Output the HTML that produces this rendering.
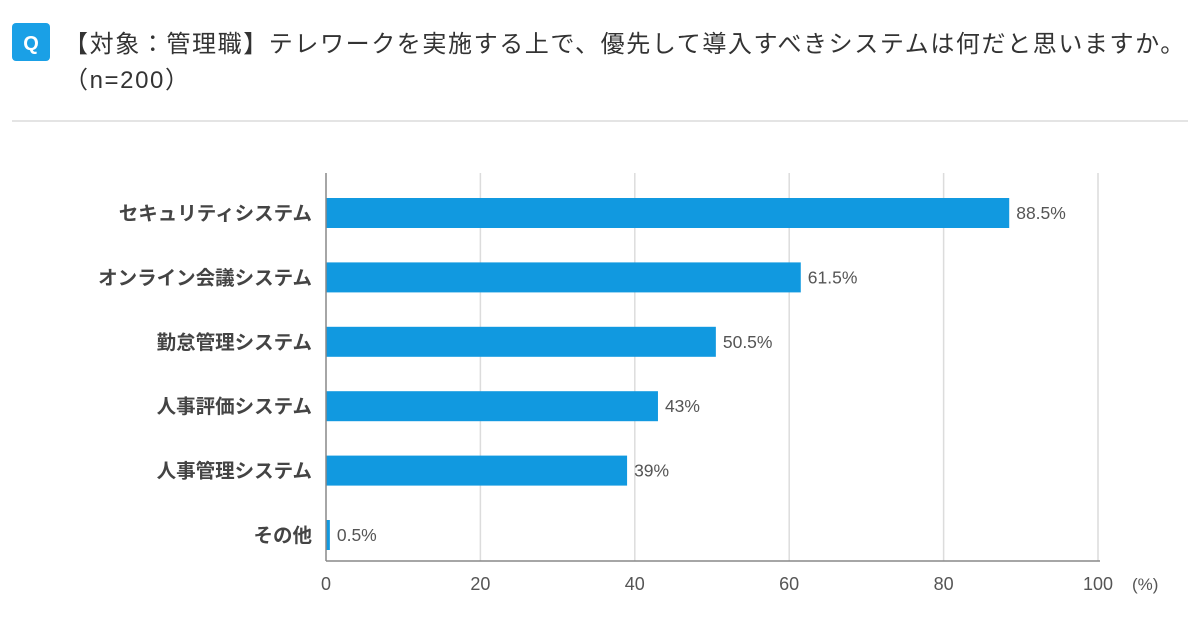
<!DOCTYPE html>
<html><head><meta charset="utf-8"><style>
body{margin:0;width:1200px;height:630px;background:#fff;overflow:hidden;font-family:"Liberation Sans","Noto Sans CJK JP",sans-serif;}
</style></head><body>
<svg width="1200" height="630">
<rect x="12" y="23" width="38" height="38" rx="4" fill="#1aa0e6"/>
<text x="31" y="50" text-anchor="middle" font-size="20" font-weight="bold" fill="#fff" font-family="Liberation Sans,sans-serif">Q</text>
<text x="64" y="52" font-size="24" letter-spacing="1.6" fill="#333">【対象：管理職】テレワークを実施する上で、優先して導入すべきシステムは何だと思いますか。</text>
<text x="64" y="88" font-size="24" letter-spacing="1.6" fill="#333">（n=200）</text>
<line x1="12" y1="121" x2="1188" y2="121" stroke="#e4e4e4" stroke-width="2"/>
<g id="grid"></g><g id="bars"></g>
<line x1="326" y1="173" x2="326" y2="561" stroke="#888" stroke-width="1.5"/>
<line x1="326" y1="561" x2="1100" y2="561" stroke="#888" stroke-width="1.5"/>
<text x="1132" y="590" font-size="17" fill="#555">(%)</text>
</svg>
<script>
const categories=["セキュリティシステム","オンライン会議システム","勤怠管理システム","人事評価システム","人事管理システム","その他"];
const values=[88.5,61.5,50.5,43,39,0.5];
const valueLabels=["88.5%","61.5%","50.5%","43%","39%","0.5%"];
const ticks=[0,20,40,60,80,100];
const NS="http://www.w3.org/2000/svg";
const x=v=>326+v*7.72;
const yc=i=>213+i*64.4;
function mk(t,a,p){const e=document.createElementNS(NS,t);for(const k in a)e.setAttribute(k,a[k]);p.appendChild(e);return e;}
const g=document.getElementById('grid'),b=document.getElementById('bars');
ticks.forEach(t=>{
 if(t>0){const l=mk('line',{x1:x(t),x2:x(t),y1:173,y2:561,stroke:'#dcdcdc','stroke-width':1.5},g);
 
 }
 const tx=mk('text',{x:x(t),y:590,'text-anchor':'middle','font-size':18,fill:'#555'},g);tx.textContent=t;
 
 
});
categories.forEach((c,i)=>{
 const r=mk('rect',{x:326,y:yc(i)-15,width:Math.max(x(values[i])-326,2),height:30,fill:'#1199e0'},b);
 
 
 const lb=mk('text',{x:312,y:yc(i)+7,'text-anchor':'end','font-size':19.5,'font-weight':'bold',fill:'#444'},b);lb.textContent=c;
 
 
 const vl=mk('text',{x:Math.max(x(values[i]),328)+7,y:yc(i)+6,'font-size':17.5,fill:'#555'},b);vl.textContent=valueLabels[i];
 
 
});
</script>
</body></html>
